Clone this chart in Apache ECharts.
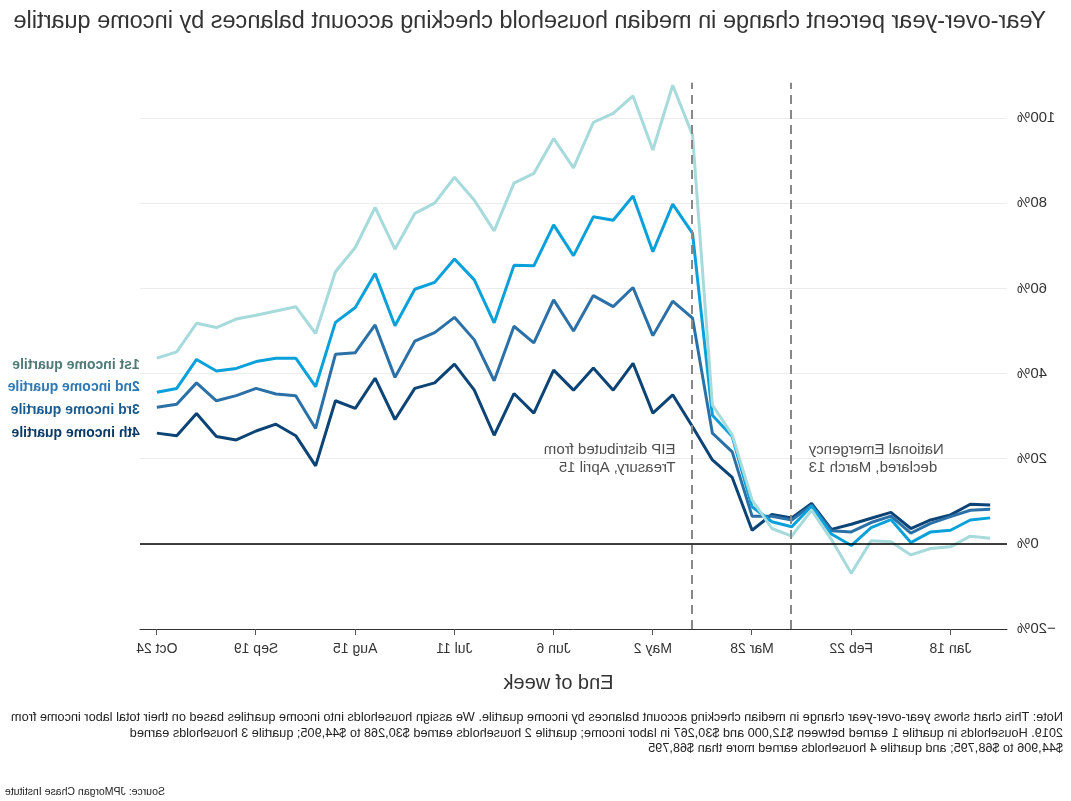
<!DOCTYPE html>
<html>
<head>
<meta charset="utf-8">
<script src="https://cdn.jsdelivr.net/npm/echarts@6/dist/echarts.min.js"></script>
<style>
  html, body { margin: 0; padding: 0; background: #fff; }
  #chart { width: 1071px; height: 801px; transform: scaleX(-1); }
</style>
</head>
<body>
<div id="chart"></div>
<script>
// Week-ending dates (2020)
const weeks = ['Jan 4','Jan 11','Jan 18','Jan 25','Feb 1','Feb 8','Feb 15','Feb 22','Feb 29','Mar 7','Mar 14','Mar 21','Mar 28','Apr 4','Apr 11','Apr 18','Apr 25','May 2','May 9','May 16','May 23','May 30','Jun 6','Jun 13','Jun 20','Jun 27','Jul 4','Jul 11','Jul 18','Jul 25','Aug 1','Aug 8','Aug 15','Aug 22','Aug 29','Sep 5','Sep 12','Sep 19','Sep 26','Oct 3','Oct 10','Oct 17','Oct 24'];
const tickWeeks = ['Jan 18','Feb 22','Mar 28','May 2','Jun 6','Jul 11','Aug 15','Sep 19','Oct 24'];
const yTicks = [-20, 0, 20, 40, 60, 80, 100];

const seriesNames = ['1st income quartile','2nd income quartile','3rd income quartile','4th income quartile'];
const q1 = [1.3,1.8,-0.7,-1.1,-2.6,0.5,0.7,-6.9,1.0,7.9,1.8,3.6,10.3,25.6,32.6,96.0,107.7,92.5,105.2,101.1,99.0,88.3,95.2,87.0,84.7,73.5,80.7,86.1,80.0,77.6,69.2,79.0,69.6,63.9,49.4,55.7,54.7,53.7,52.8,50.8,51.8,45.1,43.6];
const q2 = [6.1,5.6,3.2,2.8,0.3,5.7,3.8,-0.4,2.3,8.9,4.0,5.2,8.7,25.2,30.2,72.9,79.8,68.6,81.7,76.0,76.8,67.7,74.9,65.3,65.4,51.9,62.0,66.9,61.4,59.8,51.2,63.5,55.5,52.0,36.9,43.6,43.6,42.8,41.2,40.6,43.3,36.5,35.6];
const q3 = [8.1,7.9,6.4,4.8,2.5,6.5,5.0,2.8,3.1,9.1,5.6,6.5,6.5,21.6,26.0,53.0,57.0,48.9,60.2,55.7,58.3,50.0,57.3,47.2,51.1,38.3,47.9,53.2,49.6,47.6,39.1,51.4,44.9,44.5,27.1,34.8,35.2,36.5,34.8,33.6,37.8,32.8,32.1];
const q4 = [9.1,9.3,6.8,5.6,3.6,7.4,6.0,4.6,3.4,9.5,6.1,6.9,3.2,15.6,19.7,27.5,35.0,30.7,42.4,36.1,41.3,36.1,40.8,30.7,35.3,25.5,36.1,42.2,37.8,36.5,29.2,38.9,31.8,33.6,18.3,25.4,28.1,26.5,24.4,25.2,30.6,25.4,26.0];

const events = [
  { week: 'Mar 14', text: 'National Emergency\ndeclared, March 13', side: 'left' },
  { week: 'Apr 18', text: 'EIP distributed from\nTreasury, April 15', side: 'right' }
];
const eventLabelY = 20;

const titleText = 'Year-over-year percent change in median household checking account balances by income quartile';
const noteText = 'Note: This chart shows year-over-year change in median checking account balances by income quartile. We assign households into income quartiles based on their total labor income from\n2019. Households in quartile 1 earned between $12,000 and $30,267 in labor income; quartile 2 households earned $30,268 to $44,905; quartile 3 households earned\n$44,906 to $68,795; and quartile 4 households earned more than $68,795';
const sourceText = 'Source: JPMorgan Chase Institute';

const lineColors = ['#a6dadb', '#0aa0da', '#2b71a8', '#0c4476'];
const labelColors = ['#4f7a76', '#2f78b3', '#1a5b8f', '#0b3a66'];
const labelOffsets = [7, -5.5, 2.7, 0];

const tickIdx = tickWeeks.map(w => weeks.indexOf(w));
const allQ = [q1, q2, q3, q4];
const FONT = '"Liberation Sans", Arial, Helvetica, sans-serif';

const chart = echarts.init(document.getElementById('chart'), null, { renderer: 'canvas' });

const lineSeries = allQ.map((arr, k) => ({
  name: seriesNames[k],
  type: 'line',
  data: arr.map((v, i) => [i, v]),
  symbol: 'none',
  lineStyle: { width: 3, color: lineColors[k] },
  itemStyle: { color: lineColors[k] },
  z: 3 + (3 - k) * 0.01,
  endLabel: {
    show: true,
    formatter: seriesNames[k],
    color: labelColors[k],
    fontWeight: 'bold',
    fontSize: 14,
    fontFamily: FONT,
    distance: 17,
    offset: [0, labelOffsets[k]]
  },
  emphasis: { disabled: true }
}));

chart.setOption({
  animation: false,
  textStyle: { fontFamily: FONT },
  title: {
    text: titleText,
    left: 20,
    top: 5,
    textStyle: { fontSize: 23.5, fontWeight: 'normal', color: '#333', fontFamily: FONT }
  },
  grid: { left: 64, right: 140, top: 82.7, bottom: 172, containLabel: false },
  xAxis: {
    type: 'value',
    min: -0.85,
    max: 42.85,
    name: 'End of week',
    nameLocation: 'middle',
    nameGap: 44,
    nameTextStyle: { fontSize: 20, color: '#333', fontFamily: FONT, padding: [0, 0, 0, 30] },
    axisLine: { show: true, onZero: false, lineStyle: { color: '#333', width: 1 } },
    axisTick: { show: true, customValues: tickIdx, length: 6, lineStyle: { color: '#555' } },
    axisLabel: {
      customValues: tickIdx,
      formatter: v => weeks[Math.round(v)],
      fontSize: 14, color: '#333', margin: 13
    },
    splitLine: { show: false }
  },
  yAxis: {
    type: 'value',
    min: -20,
    max: 108.3,
    interval: 20,
    axisLine: { show: false },
    axisTick: { show: false },
    axisLabel: {
      formatter: v => (v < 0 ? '\u2212' + Math.abs(v) : v) + '%',
      showMaxLabel: false,
      fontSize: 15, color: '#333', margin: 10
    },
    splitLine: { show: true, showMaxLine: false, showMinLine: false, lineStyle: { color: '#ececec', width: 1 } }
  },
  series: [
    {
      type: 'line', data: [], silent: true, z: 2,
      markLine: {
        silent: true, symbol: 'none', label: { show: false },
        lineStyle: { color: '#000', width: 1.5, type: 'solid' },
        data: [{ yAxis: 0 }]
      }
    },
    ...lineSeries,
    {
      type: 'line', data: [], silent: true, z: 6,
      markLine: {
        silent: true, symbol: 'none', label: { show: false },
        lineStyle: { color: '#888', width: 2, type: [9, 6] },
        data: events.map(e => ({ xAxis: weeks.indexOf(e.week) }))
      }
    },
    {
      type: 'scatter', silent: true, symbolSize: 0, z: 7,
      data: events.map(e => ({
        value: [weeks.indexOf(e.week), eventLabelY],
        label: {
          show: true,
          position: e.side,
          distance: 17,
          formatter: e.text,
          align: e.side === 'left' ? 'right' : 'left',
          fontSize: 15, lineHeight: 18, color: '#222', fontFamily: FONT
        }
      }))
    }
  ],
  graphic: [
    {
      type: 'text', left: 8, top: 710,
      style: { text: noteText, fontSize: 12.7, lineHeight: 15.5, fill: '#222', fontFamily: FONT }
    },
    {
      type: 'text', right: 5, top: 787,
      style: { text: sourceText, fontSize: 10.5, fill: '#222', fontFamily: FONT }
    }
  ]
});
</script>
</body>
</html>
